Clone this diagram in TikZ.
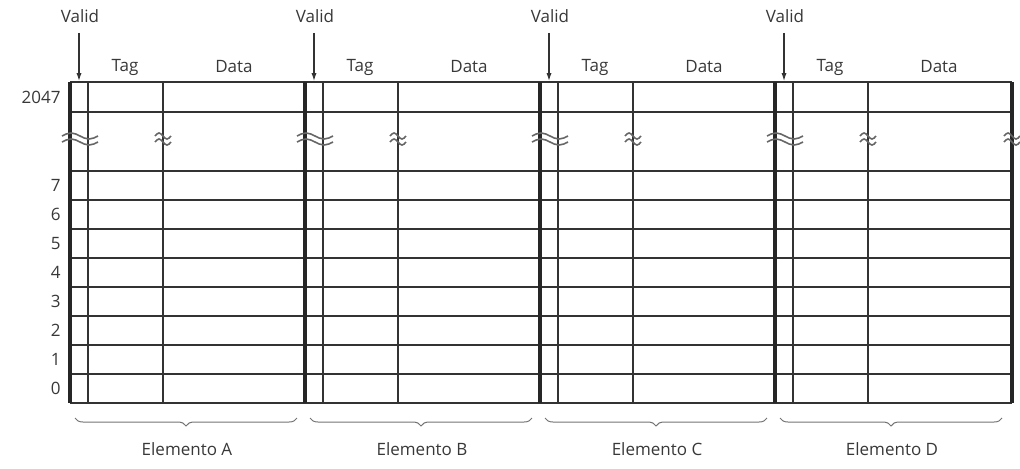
\documentclass[tikz,border=0pt]{standalone}
\usepackage{fontspec}
\setmainfont{Open Sans}
\usetikzlibrary{arrows.meta,positioning,decorations.pathreplacing}

\begin{document}
\begin{tikzpicture}[x=0.5pt,y=-0.5pt,
  grid/.style={draw=black!80,line width=1pt},
  sep/.style={draw=black!85,line width=2pt},
  lbl/.style={font=\fontsize{8.5}{10}\selectfont,text=black!78,inner sep=1pt},
  brk/.style={draw=black!60,line width=0.8pt},
  brace/.style={draw=black!55,line width=0.5pt,decorate,decoration={brace,mirror,amplitude=4pt}}]
  \useasboundingbox (0,0) rectangle (1020,468);
  % rows
  \foreach \y in {82,112,171,200,...,403} \draw[grid] (70,\y) -- (1012,\y);
  \foreach \r/\y in {7/185.5,6/214.5,5/243.5,4/272.5,3/301.5,2/330.5,1/359.5,0/388.5}
     \node[lbl,anchor=east] (row\r) at (63,\y) {\r};
  \node[lbl,anchor=east] (row2047) at (63,97) {2047};
  % elements
  \foreach \e/\x/\n in {A/70/1,B/305/2,C/540/3,D/775/4} {
    \draw[grid] (\x+18,82) -- (\x+18,403);
    \draw[grid] (\x+93,82) -- (\x+93,403);
    \draw[sep] (\x,82) -- (\x,403);
    \node[lbl] (valid\n) at (\x+10,16) {Valid};
    \coordinate (vtop\n) at (\x+9,81);
    \draw[black!80,line width=0.6pt,-{Latex[length=4pt,width=2.6pt]}] (valid\n.south -| vtop\n) ++(0,8) -- (vtop\n);
    \node[lbl] (tag\n) at (\x+55,67) {Tag};
    \node[lbl] (data\n) at (\x+164,67) {Data};
    \coordinate (bl\n) at (\x+5,418);
    \coordinate (br\n) at (\x+227,418);
    \draw[brace] (bl\n) -- (br\n);
    \node[lbl] (elem\n) at (\x+117,449) {Elemento \e};
  }
  \draw[sep] (1012,82) -- (1012,403);
  % break marks
  \foreach \a/\b in {62/98,155/171,297/333,390/406,532/568,625/641,767/803,860/876,1004/1020}
    \foreach \dy in {0,6}
      \draw[brk] (\a,136+\dy) sin ({(3*\a+\b)/4},133+\dy) cos ({(\a+\b)/2},136+\dy)
         sin ({(\a+3*\b)/4},139+\dy) cos (\b,136+\dy);
\end{tikzpicture}
\end{document}
